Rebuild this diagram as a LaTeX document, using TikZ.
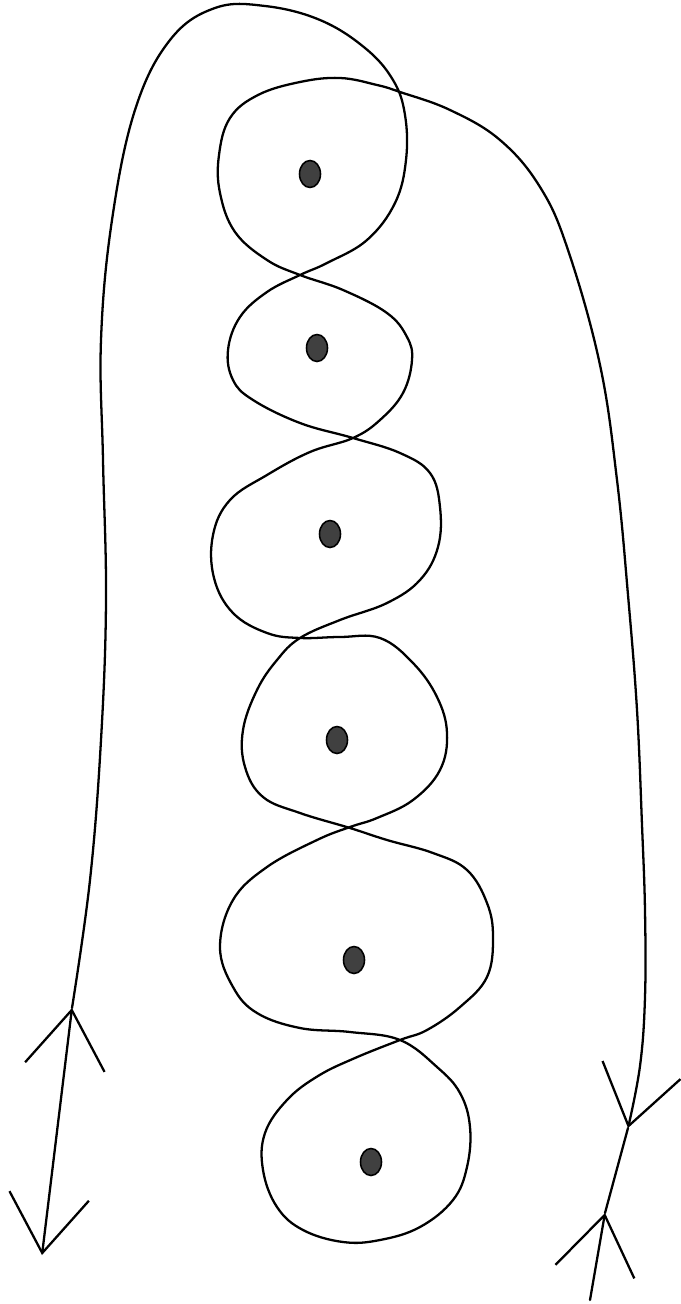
\documentclass[tikz,border=0pt]{standalone}
\usepackage{tikz}
\usetikzlibrary{arrows.meta, shapes.geometric}

\begin{document}
\begin{tikzpicture}[
  x=0.02cm, y=-0.02cm,
  >={Straight Barb[length=1.15cm, width=1.6cm, line width=1.3pt]},
  strand/.style={line width=1.3pt, line cap=round, line join=round},
  dot/.style={ellipse, draw=black, line width=0.9pt, fill=black!75, minimum width=0.42cm, minimum height=0.54cm, inner sep=0pt}
]
\useasboundingbox (0,0) rectangle (680,1304);

% Dots inside the loops
\node[dot] (d1) at (310,174) {};
\node[dot] (d2) at (317,348) {};
\node[dot] (d3) at (330,534) {};
\node[dot] (d4) at (337,740) {};
\node[dot] (d5) at (354,960) {};
\node[dot] (d6) at (371,1162) {};

% Arrow vertices
\coordinate (lup) at (72,1008);
\coordinate (llow) at (42,1255);
\coordinate (rup) at (628,1128);
\coordinate (rlow) at (605,1213);
\coordinate (rend) at (590,1300);

% The strand, one line from the left arrow to the right arrow
\draw[strand, ->] plot[smooth, tension=0.65] coordinates {
  (72,1008) (90,880) (101,740) (106,600) (103,460)
  (101,340) (112,220) (135,110) (170,40) (215,8)
  (265,6) (320,20) (365,48) (393,80) (405,115) (406,160) (395,203)
  (367,240) (327,263) (300,275) (267,292) (240,317) (228,350) (233,380)
  (253,400) (300,423) (353,438) (400,453) (430,473) (440,507) (438,547)
  (420,580) (387,603) (340,620) (300,638) (277,660) (257,690) (243,730)
  (245,767) (263,797) (300,813) (350,828) (387,840) (433,853) (467,870)
  (487,903) (493,937) (487,977) (460,1007) (427,1030) (400,1040)
  (355,1058) (318,1076) (287,1100) (265,1133) (263,1170) (277,1207)
  (303,1230) (343,1242) (380,1240) (420,1227) (453,1200) (467,1167)
  (470,1127) (460,1093) (437,1067) (400,1040) (350,1032) (300,1028)
  (257,1013) (233,987) (220,947) (233,900) (267,867) (317,840) (350,827)
  (377,818) (413,800) (440,770) (447,733) (437,697) (413,663) (380,638)
  (340,637) (300,638) (267,633) (233,613) (214,578) (213,535) (230,500)
  (267,475) (310,452) (353,438) (380,420) (403,393) (412,360) (407,337)
  (387,313) (343,290) (300,275) (267,260) (235,232) (220,193) (219,155)
  (230,118) (258,95) (300,82) (340,78) (377,85) (400,92) (450,110)
  (500,140) (540,187) (568,250) (600,365) (617,480) (628,595) (637,710)
  (642,825) (645,911) (645,997) (640,1066) (628,1128)};

% Double arrow on the left
\draw[strand, <->] (lup) -- (llow);

% Arrow pointing up on the right
\draw[strand] (rup) -- (rlow);
\draw[strand, <-] (rlow) -- (rend);

\end{tikzpicture}
\end{document}
